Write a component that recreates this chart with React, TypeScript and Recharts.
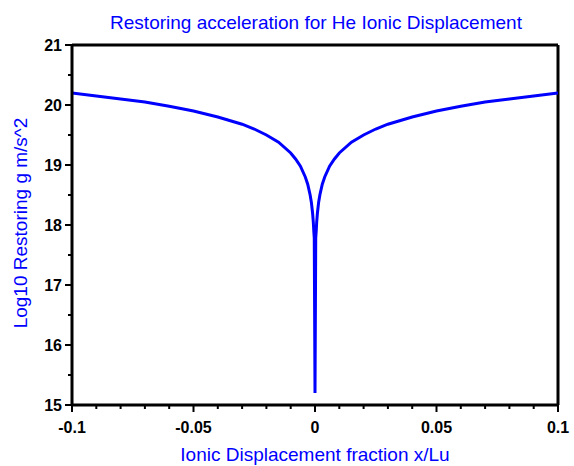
import React from 'react'
import { LineChart, Line, XAxis, YAxis, ReferenceLine, Label } from 'recharts'

// x/Lu displacement fraction and the log10 restoring acceleration
const displacement = [
  -0.1, -0.09, -0.08, -0.07, -0.06, -0.05, -0.04, -0.03, -0.025, -0.02, -0.015, -0.01,
  -0.008, -0.006, -0.004, -0.003, -0.002, -0.0015, -0.001, -0.0007, -0.0005, -0.0003,
  0,
  0.0003, 0.0005, 0.0007, 0.001, 0.0015, 0.002, 0.003, 0.004, 0.006, 0.008, 0.01,
  0.015, 0.02, 0.025, 0.03, 0.04, 0.05, 0.06, 0.07, 0.08, 0.09, 0.1,
]
const log10Accel = [
  20.2, 20.15, 20.1, 20.05, 19.98, 19.9, 19.8, 19.68, 19.6, 19.5, 19.38, 19.2,
  19.1, 18.98, 18.8, 18.68, 18.5, 18.38, 18.2, 18.05, 17.9, 17.78,
  15.2,
  17.78, 17.9, 18.05, 18.2, 18.38, 18.5, 18.68, 18.8, 18.98, 19.1, 19.2,
  19.38, 19.5, 19.6, 19.68, 19.8, 19.9, 19.98, 20.05, 20.1, 20.15, 20.2,
]

const xTicks = [
  -0.1, -0.09, -0.08, -0.07, -0.06, -0.05, -0.04, -0.03, -0.02, -0.01, 0,
  0.01, 0.02, 0.03, 0.04, 0.05, 0.06, 0.07, 0.08, 0.09, 0.1,
]
const yTicks = [15, 15.5, 16, 16.5, 17, 17.5, 18, 18.5, 19, 19.5, 20, 20.5, 21]

const data = displacement.map((x, i) => ({ x, y: log10Accel[i] }))

const FONT = '"Liberation Sans", Arial, sans-serif'
const BLUE = '#0000ff'

const fmt = (v: number) => String(Math.round(v * 100) / 100)

const XTick = (props: any) => {
  const { x, y, payload } = props
  const v = payload.value
  const major = Math.abs(Math.round(v * 20) - v * 20) < 1e-6
  return (
    <g>
      <line x1={x} x2={x} y1={y} y2={y + (major ? 7 : 4)} stroke="#000" strokeWidth={2} />
      {major && (
        <text x={x} y={y + 28} textAnchor="middle" fontSize={16} fontWeight="bold" fontFamily={FONT} fill="#000">
          {fmt(v)}
        </text>
      )}
    </g>
  )
}

const YTick = (props: any) => {
  const { x, y, payload } = props
  const v = payload.value
  const major = Number.isInteger(v)
  return (
    <g>
      <line x1={x - (major ? 7 : 4)} x2={x} y1={y} y2={y} stroke="#000" strokeWidth={2} />
      {major && (
        <text x={x - 10} y={y + 6} textAnchor="end" fontSize={16} fontWeight="bold" fontFamily={FONT} fill="#000">
          {v}
        </text>
      )}
    </g>
  )
}

export default function App() {
  return (
    <div style={{ position: 'absolute', left: 0, top: 0, width: 574, height: 466 }}>
      <div
        style={{
          position: 'absolute',
          left: 0,
          top: 12,
          width: 632,
          textAlign: 'center',
          fontFamily: FONT,
          fontSize: 19,
          color: BLUE,
          lineHeight: '22px',
        }}
      >
        Restoring acceleration for He Ionic Displacement
      </div>
      <LineChart width={574} height={466} data={data} margin={{ top: 45, right: 16, bottom: 0, left: 0 }}>
        <XAxis
          dataKey="x"
          type="number"
          domain={[-0.1, 0.1]}
          ticks={xTicks}
          interval={0}
          tick={<XTick />}
          tickLine={false}
          tickSize={0}
          tickMargin={0}
          height={61}
          axisLine={{ stroke: '#000', strokeWidth: 3 }}
          allowDataOverflow
        >
          <Label
            content={() => (
              <text x={315} y={461} textAnchor="middle" fontSize={19} fontFamily={FONT} fill={BLUE}>
                Ionic Displacement fraction x/Lu
              </text>
            )}
          />
        </XAxis>
        <YAxis
          type="number"
          domain={[15, 21]}
          ticks={yTicks}
          interval={0}
          tick={<YTick />}
          tickLine={false}
          tickSize={0}
          tickMargin={0}
          width={72}
          axisLine={{ stroke: '#000', strokeWidth: 3 }}
          allowDataOverflow
        >
          <Label
            content={() => (
              <text
                x={27}
                y={223}
                transform="rotate(-90 27 223)"
                textAnchor="middle"
                fontSize={19}
                fontFamily={FONT}
                fill={BLUE}
              >
                Log10 Restoring g m/s^2
              </text>
            )}
          />
        </YAxis>
        <ReferenceLine y={21} stroke="#000" strokeWidth={3} />
        <ReferenceLine x={0.1} stroke="#000" strokeWidth={3} />
        <Line
          type="linear"
          dataKey="y"
          stroke={BLUE}
          strokeWidth={3}
          dot={false}
          isAnimationActive={false}
        />
      </LineChart>
    </div>
  )
}
